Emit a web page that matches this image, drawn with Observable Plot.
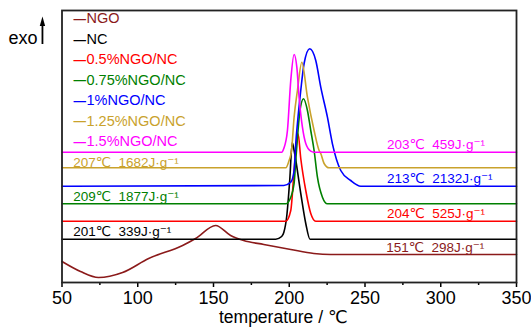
<!DOCTYPE html>
<html>
<head>
<meta charset="utf-8">
<script src="https://cdn.jsdelivr.net/npm/d3@7"></script>
<script src="https://cdn.jsdelivr.net/npm/@observablehq/plot@0.6"></script>
<style>
  html, body { margin: 0; padding: 0; background: #fff; }
  #chart svg { display: block; }
</style>
</head>
<body>
<div id="chart"></div>
<script>
// ---- Data (temperature in °C, heat flow in arbitrary units) ----
const seriesNames  = ["NGO", "NC", "0.5%NGO/NC", "0.75%NGO/NC", "1%NGO/NC", "1.25%NGO/NC", "1.5%NGO/NC"];
const seriesColors = ["#8b1a1a", "#000000", "#ff0000", "#008000", "#0000ff", "#c9a22c", "#ff00ff"];

const ngoT = [50, 62.2, 74.1, 90.0, 107.2, 129.6, 138.2, 151.4, 161.3, 169.9, 183.2, 201.0, 216.2, 227.3, 350];
const ngoV = [2.1, 1.1, 0.5, 1.0, 2.4, 3.7, 4.4, 5.7, 4.7, 4.2, 3.8, 3.3, 2.9, 2.8, 2.8];

const ncT = [50, 191.1, 195.0, 196.4, 198.4, 200.3, 202.0, 203.2, 207.6, 210.9, 213.7, 350];
const ncV = [4.33, 4.33, 4.6, 5.0, 6.7, 10.2, 14.0, 13.2, 8.9, 5.9, 4.33, 4.33];

const red05T = [50, 197.7, 201.0, 203.2, 205.0, 205.8, 207.6, 210.9, 214.2, 217.5, 350];
const red05V = [6.13, 6.13, 7.2, 11.2, 14.2, 14.87, 12.4, 9.2, 6.9, 6.13, 6.13];

const grn075T = [50, 197.7, 201.0, 203.2, 204.3, 205.8, 207.1, 209.4, 212.0, 214.2, 216.4, 218.6, 221.9, 225.2, 350];
const grn075V = [7.87, 7.87, 8.53, 9.9, 12.2, 15.2, 17.2, 18.37, 17.2, 15.2, 13.2, 10.53, 8.53, 7.87, 7.87];

const blu1T = [50, 196.4, 201.0, 203.2, 204.3, 205.4, 207.6, 209.8, 213.5, 217.5, 220.8, 225.2, 228.5, 234.0, 240.6, 247.2, 350];
const blu1V = [9.63, 9.7, 10.03, 11.2, 13.9, 15.9, 19.2, 21.9, 23.37, 22.2, 19.53, 16.53, 13.87, 11.2, 10.2, 9.63, 9.63];

const gld125T = [50, 197.7, 199.9, 201.5, 203.2, 205.4, 208.3, 212.0, 216.4, 219.7, 220.8, 223.0, 226.3, 350];
const gld125V = [11.47, 11.47, 12.2, 13.2, 16.53, 19.2, 22.03, 18.53, 15.2, 13.2, 12.9, 11.9, 11.47, 11.47];

const mag15T = [50, 195.0, 196.4, 198.8, 201.0, 203.2, 205.0, 206.5, 208.7, 210.9, 214.2, 216.2, 350];
const mag15V = [13.03, 13.03, 13.4, 15.2, 20.2, 22.8, 21.53, 18.53, 15.53, 13.9, 13.13, 13.03, 13.03];

const seriesT = [ngoT, ncT, red05T, grn075T, blu1T, gld125T, mag15T];
const seriesV = [ngoV, ncV, red05V, grn075V, blu1V, gld125V, mag15V];

// Peak annotations
const annoText   = ["207℃\u00a0\u00a01682J·g⁻¹", "209℃\u00a0\u00a01877J·g⁻¹", "201℃\u00a0\u00a0339J·g⁻¹",
                    "203℃\u00a0\u00a0459J·g⁻¹", "213℃\u00a0\u00a02132J·g⁻¹", "204℃\u00a0\u00a0525J·g⁻¹", "151℃\u00a0\u00a0298J·g⁻¹"];
const annoSeries = [5, 3, 1, 6, 4, 2, 0];
const annoT      = [57.4, 57.4, 57.4, 264.5, 264.5, 264.5, 264.0];
const annoV      = [12.0, 8.63, 5.1, 13.8, 10.37, 6.93, 3.47];

const majorTicks = [50, 100, 150, 200, 250, 300, 350];
const minorTicks = [75, 125, 175, 225, 275, 325];
const xLabel = "temperature / ℃";
const yLabel = "exo";

// ---- Build tables ----
const curves = seriesNames.map((name, i) =>
  seriesT[i].map((t, j) => ({series: name, t, v: seriesV[i][j]})));
const annos = annoText.map((text, i) => ({text, t: annoT[i], v: annoV[i], color: seriesColors[annoSeries[i]]}));

const narrowTriangle = {
  draw(ctx) { ctx.moveTo(0, -5); ctx.lineTo(2.7, 4.5); ctx.lineTo(-2.7, 4.5); ctx.closePath(); }
};

const font = "'Liberation Sans', Arial, 'DejaVu Sans', sans-serif";

const chart = Plot.plot({
  width: 531,
  height: 334,
  marginLeft: 61.5,
  marginRight: 15,
  marginTop: 10,
  marginBottom: 52,
  style: {fontFamily: font, background: "#fff", color: "#000", overflow: "visible"},
  x: {domain: [50, 350]},
  y: {domain: [0, 27.2], axis: null},
  marks: [
    ...curves.map((data, i) => Plot.line(data, {
      x: "t", y: "v", stroke: seriesColors[i], strokeWidth: 1.6, curve: "monotone-x"
    })),
    Plot.text(annos, {x: "t", y: "v", text: "text", fill: "color", textAnchor: "start", fontSize: 13.5}),
    ...seriesNames.map((name, i) => Plot.text(["—"], {
      frameAnchor: "top-left", dx: 11.5, dy: 8.6 + i * 20.45, textAnchor: "start",
      lineAnchor: "middle", fill: seriesColors[i], fontSize: 12.5, fontWeight: "bold"
    })),
    ...seriesNames.map((name, i) => Plot.text([name], {
      frameAnchor: "top-left", dx: 24.5, dy: 8.3 + i * 20.45, textAnchor: "start",
      lineAnchor: "middle", fill: seriesColors[i], fontSize: 14.5
    })),
    Plot.axisX(majorTicks, {tickSize: 5, tickPadding: 4, strokeWidth: 1.5, fontSize: 18, label: null}),
    Plot.axisX(minorTicks, {tickSize: 3, strokeWidth: 1.5, text: null, label: null}),
    Plot.text([xLabel], {frameAnchor: "bottom", dy: 40, dx: -6, fontSize: 17.5}),
    Plot.text([yLabel], {frameAnchor: "top-left", dx: -53.5, dy: 21, textAnchor: "start", fontSize: 18}),
    Plot.ruleX([37.1], {y1: 23.8, y2: 25.6, stroke: "#000", strokeWidth: 1.8}),
    Plot.dot([37.1], {x: d => d, y: () => 26.1, symbol: narrowTriangle, fill: "#000", stroke: "none"}),
    Plot.frame({stroke: "#222", strokeWidth: 1.8})
  ]
});
document.getElementById("chart").appendChild(chart);
</script>
</body>
</html>
